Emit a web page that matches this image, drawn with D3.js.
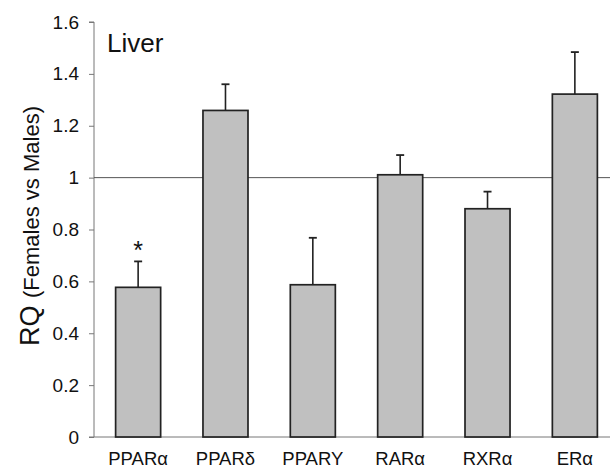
<!DOCTYPE html>
<html><head><meta charset="utf-8">
<script src="https://cdn.jsdelivr.net/npm/d3@7"></script>
<style>body{margin:0;background:#fff}svg{display:block}text{font-family:"Liberation Sans",Arial,sans-serif;fill:#111}</style>
</head><body>
<svg id="c" width="610" height="471"></svg>
<script>
const categories = ["PPARα","PPARδ","PPARY","RARα","RXRα","ERα"];
const values = [0.577, 1.259, 0.587, 1.011, 0.880, 1.322];
const errors = [0.100, 0.101, 0.181, 0.076, 0.066, 0.162];
const significant = [true, false, false, false, false, false];
const yTicks = [0, 0.2, 0.4, 0.6, 0.8, 1, 1.2, 1.4, 1.6];
const refValue = 1;
const panelLabel = "Liver";

const svg = d3.select("#c");
const axisX = 94, right = 610;
const y = d3.scaleLinear().domain([0, 1.6]).range([437, 22]);
const x = d3.scaleBand().domain(categories).range([113, 600]).paddingInner(0.4845).paddingOuter(0.03);

// x axis baseline
svg.append("line").attr("x1", axisX).attr("x2", right).attr("y1", y(0)).attr("y2", y(0))
  .attr("stroke", "#777").attr("stroke-width", 1);

// y axis
const yAxis = d3.axisLeft(y).tickValues(yTicks).tickSize(5).tickPadding(10)
  .tickFormat(d => String(+d.toFixed(1)));
const ga = svg.append("g").attr("transform", `translate(${axisX},0)`).call(yAxis);
ga.select(".domain").attr("stroke", "#777").attr("d", `M-5,${y(1.6)}H0V${y(0)}H-5`);
ga.selectAll(".tick line").attr("stroke", "#777");
ga.selectAll(".tick text").attr("font-size", 19).attr("fill", "#111")
  .attr("font-family", "Liberation Sans, Arial, sans-serif");

// reference line
svg.append("line").attr("x1", axisX).attr("x2", right).attr("y1", y(refValue)).attr("y2", y(refValue))
  .attr("stroke", "#555").attr("stroke-width", 1);

// error bars
const eb = svg.append("g");
categories.forEach((c, i) => {
  const cx = x(c) + x.bandwidth() / 2;
  const top = y(values[i] + errors[i]);
  eb.append("line").attr("x1", cx).attr("x2", cx).attr("y1", y(values[i])).attr("y2", top)
    .attr("stroke", "#222").attr("stroke-width", 1.6);
  eb.append("line").attr("x1", cx - 4).attr("x2", cx + 4).attr("y1", top).attr("y2", top)
    .attr("stroke", "#222").attr("stroke-width", 1.8);
});

// bars
svg.append("g").selectAll("rect").data(categories).join("rect")
  .attr("x", d => x(d)).attr("width", x.bandwidth())
  .attr("y", (d, i) => y(values[i])).attr("height", (d, i) => y(0) - y(values[i]))
  .attr("fill", "#c0c0c0").attr("stroke", "#222").attr("stroke-width", 1.7);

// significance star
categories.forEach((c, i) => {
  if (significant[i]) {
    svg.append("text").attr("x", x(c) + x.bandwidth() / 2).attr("y", y(values[i] + errors[i]) - 2)
      .attr("text-anchor", "middle").attr("font-size", 25).text("*");
  }
});

// x labels
svg.append("g").selectAll("text").data(categories).join("text")
  .attr("x", d => x(d) + x.bandwidth() / 2).attr("y", 465)
  .attr("text-anchor", "middle").attr("font-size", 18.5).text(d => d);

// panel label
svg.append("text").attr("x", 107).attr("y", 52).attr("font-size", 26).text(panelLabel);

// y title
const t = svg.append("text").attr("transform", `translate(39,226) rotate(-90)`).attr("text-anchor", "middle");
t.append("tspan").attr("font-size", 27).text("RQ ");
t.append("tspan").attr("font-size", 22).text("(Females vs Males)");
</script>
</body></html>
